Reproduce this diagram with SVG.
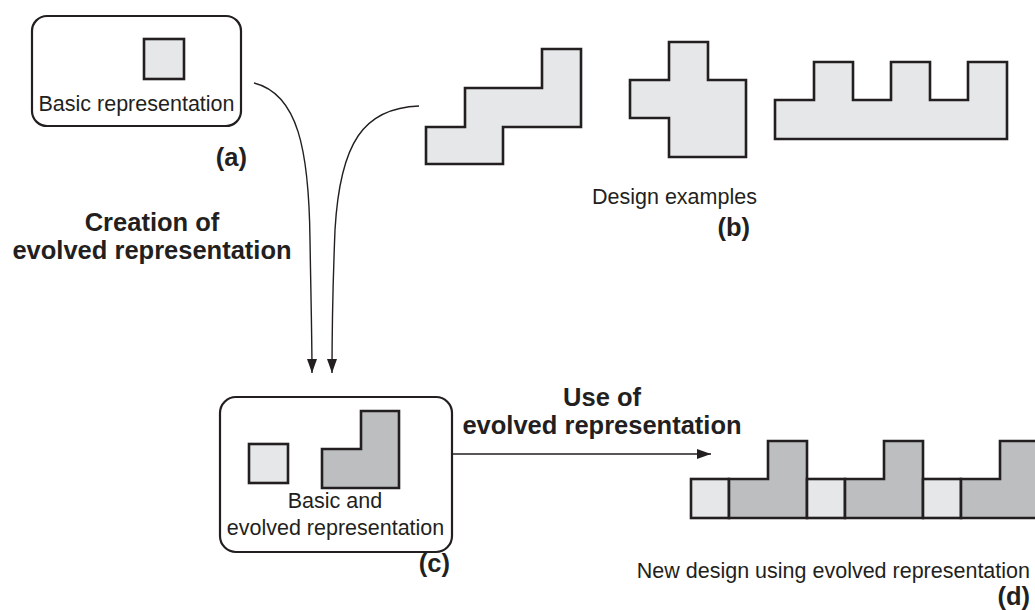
<svg xmlns="http://www.w3.org/2000/svg" width="1035" height="610" viewBox="0 0 1035 610">
  <defs>
    <style>
      .box { fill: #ffffff; stroke: #231f20; stroke-width: 2.2; }
      .light { fill: #e6e7e8; stroke: #231f20; stroke-width: 2.6; stroke-linejoin: miter; }
      .dark { fill: #bcbec0; stroke: #231f20; stroke-width: 2.6; stroke-linejoin: miter; }
      .lbl { font-family: "Liberation Sans", Arial, sans-serif; font-size: 21.5px; fill: #231f20; }
      .bold { font-family: "Liberation Sans", Arial, sans-serif; font-size: 25.5px; font-weight: bold; fill: #231f20; }
      .wire { fill: none; stroke: #231f20; stroke-width: 1.4; }
    </style>
    <marker id="arrow" viewBox="0 0 14 10" refX="14" refY="5" markerWidth="14" markerHeight="10" markerUnits="userSpaceOnUse" orient="auto">
      <path d="M0,0 L14,5 L0,10 Z" fill="#231f20"/>
    </marker>
  </defs>

  <!-- (a) basic representation -->
  <g id="node-a">
    <rect class="box" x="32" y="16" width="209" height="110" rx="15"/>
    <rect class="light" x="144" y="39" width="40" height="40"/>
    <text class="lbl" x="136.5" y="111" text-anchor="middle">Basic representation</text>
    <text class="bold" x="247" y="166" text-anchor="end">(a)</text>
  </g>

  <!-- (b) design examples -->
  <g id="node-b">
    <path class="light" d="M426,164 V127 H465 V88 H542 V49 H581 V127 H503 V164 Z"/>
    <path class="light" d="M669,42 H708 V80 H746 V157 H669 V118 H630 V80 H669 Z"/>
    <path class="light" d="M775,139 V100 H814 V62 H853 V100 H891 V62 H930 V100 H968 V62 H1007 V139 Z"/>
    <text class="lbl" x="592" y="204">Design examples</text>
    <text class="bold" x="750" y="236" text-anchor="end">(b)</text>
  </g>

  <!-- (c) basic and evolved representation -->
  <g id="node-c">
    <rect class="box" x="220" y="397" width="232" height="155" rx="16"/>
    <rect class="light" x="249" y="444" width="39" height="39"/>
    <path class="dark" d="M322,488 V449 H361 V411 H399 V488 Z"/>
    <text class="lbl" x="335" y="508" text-anchor="middle">Basic and</text>
    <text class="lbl" x="335.5" y="535" text-anchor="middle">evolved representation</text>
    <text class="bold" x="450" y="572" text-anchor="end">(c)</text>
  </g>

  <!-- (d) new design built from the evolved representation -->
  <g id="node-d">
    <rect class="light" x="691" y="479" width="38" height="39"/>
    <path class="dark" d="M729,518 V479 H768 V441 H807 V518 Z"/>
    <rect class="light" x="807" y="479" width="38" height="39"/>
    <path class="dark" d="M845,518 V479 H884 V441 H923 V518 Z"/>
    <rect class="light" x="923" y="479" width="38" height="39"/>
    <path class="dark" d="M961,518 V479 H1000 V441 H1040 V518 Z"/>
    <text class="lbl" x="1030" y="578" text-anchor="end">New design using evolved representation</text>
    <text class="bold" x="1030" y="605" text-anchor="end">(d)</text>
  </g>

  <!-- edge labels -->
  <g id="labels">
    <text class="bold" x="152" y="231" text-anchor="middle">Creation of</text>
    <text class="bold" x="152" y="259" text-anchor="middle">evolved representation</text>
    <text class="bold" x="602" y="406" text-anchor="middle">Use of</text>
    <text class="bold" x="602" y="434" text-anchor="middle">evolved representation</text>
  </g>

  <!-- connectors -->
  <g id="connectors">
    <path class="wire" marker-end="url(#arrow)" d="M254,83 C298,94 309,150 310,240 C311,300 312,340 312,373"/>
    <path class="wire" marker-end="url(#arrow)" d="M419,106 C364,108 340,142 335,230 C333,280 332,330 332,373"/>
    <path class="wire" marker-end="url(#arrow)" d="M452,454 H711"/>
  </g>
</svg>
